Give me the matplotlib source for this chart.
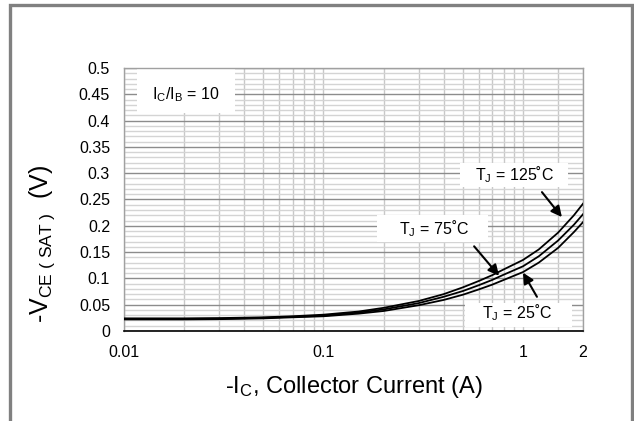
"""VCE(sat) versus collector current for three junction temperatures."""

import matplotlib.pyplot as plt
from matplotlib.patches import Rectangle
from matplotlib.ticker import FixedLocator, FixedFormatter, NullFormatter

plt.rcParams["font.family"] = ["Liberation Sans", "DejaVu Sans"]
plt.rcParams["mathtext.fontset"] = "custom"
plt.rcParams["mathtext.rm"] = "Liberation Sans"
plt.rcParams["mathtext.it"] = "Liberation Sans"

# Collector current (A)
current = [0.01, 0.02, 0.03, 0.05, 0.07, 0.1, 0.15, 0.2, 0.3, 0.4,
           0.5, 0.6, 0.7, 0.8, 1.0, 1.2, 1.5, 1.8, 2.0]

# -VCE(sat) (V) for each junction temperature
vce_125 = [0.024, 0.024, 0.0245, 0.026, 0.028, 0.031, 0.037, 0.044, 0.057, 0.070,
           0.083, 0.095, 0.106, 0.117, 0.135, 0.155, 0.187, 0.220, 0.242]
vce_75 = [0.023, 0.023, 0.0235, 0.025, 0.027, 0.029, 0.035, 0.041, 0.053, 0.065,
          0.076, 0.087, 0.097, 0.107, 0.123, 0.142, 0.172, 0.202, 0.222]
vce_25 = [0.022, 0.022, 0.0225, 0.024, 0.026, 0.028, 0.033, 0.038, 0.049, 0.059,
          0.069, 0.079, 0.088, 0.097, 0.112, 0.130, 0.158, 0.188, 0.207]

x_ticks = [0.01, 0.1, 1, 2]
x_tick_labels = ["0.01", "0.1", "1", "2"]
x_minor = [0.02, 0.03, 0.04, 0.05, 0.06, 0.07, 0.08, 0.09,
           0.2, 0.3, 0.4, 0.5, 0.6, 0.7, 0.8, 0.9, 1.5]
y_ticks = [0, 0.05, 0.1, 0.15, 0.2, 0.25, 0.3, 0.35, 0.4, 0.45, 0.5]
y_tick_labels = ["0", "0.05", "0.1", "0.15", "0.2", "0.25", "0.3",
                 "0.35", "0.4", "0.45", "0.5"]
y_minor = [i / 100 for i in range(51) if i % 5]

# (label, text position in axes fraction, arrow tail, arrow tip in data units)
annotations = [
    (r"T$_\mathregular{J}$ = 125˚C", (0.85, 0.593), (1.245, 0.264), (1.567, 0.2165)),
    (r"T$_\mathregular{J}$ = 75˚C", (0.675, 0.388), (0.569, 0.161), (0.759, 0.105)),
    (r"T$_\mathregular{J}$ = 25˚C", (0.856, 0.068), (1.175, 0.065), (1.0, 0.111)),
]
# white boxes behind labels (x, y, w, h in axes fraction)
label_boxes = [
    (0.028, 0.829, 0.214, 0.171),
    (0.732, 0.548, 0.235, 0.091),
    (0.551, 0.338, 0.242, 0.103),
    (0.743, 0.015, 0.233, 0.091),
]

fig = plt.figure(figsize=(6.34, 4.21), dpi=100)
ax = fig.add_axes([0.1956, 0.2138, 0.724, 0.6247])

# outer frame
fig.add_artist(Rectangle((10 / 634, -0.1), 622 / 634, 1.1 - 5 / 421,
                         transform=fig.transFigure, fill=False,
                         ec="#808080", lw=2.4, clip_on=False))

ax.set_xscale("log")
ax.set_xlim(0.01, 2)
ax.set_ylim(0, 0.5)

ax.xaxis.set_major_locator(FixedLocator(x_ticks))
ax.xaxis.set_major_formatter(FixedFormatter(x_tick_labels))
ax.xaxis.set_minor_locator(FixedLocator(x_minor))
ax.xaxis.set_minor_formatter(NullFormatter())
ax.yaxis.set_major_locator(FixedLocator(y_ticks))
ax.yaxis.set_major_formatter(FixedFormatter(y_tick_labels))
ax.yaxis.set_minor_locator(FixedLocator(y_minor))

ax.grid(axis="x", which="both", color="#c8c8c8", lw=1.0)
ax.grid(axis="y", which="major", color="#8c8c8c", lw=1.0)
ax.grid(axis="y", which="minor", color="#d4d4d4", lw=1.0)
ax.set_axisbelow(True)

ax.tick_params(which="both", length=0)
ax.tick_params(axis="x", labelsize=11.5, pad=10)
ax.tick_params(axis="y", labelsize=11.5, pad=10)

for side in ["left", "top", "right"]:
    ax.spines[side].set_color("#a0a0a0")
    ax.spines[side].set_linewidth(1.0)
ax.spines["bottom"].set_color("black")
ax.spines["bottom"].set_linewidth(1.2)

for x, y, w, h in label_boxes:
    ax.add_patch(Rectangle((x, y), w, h, transform=ax.transAxes,
                           fc="white", ec="none", zorder=1.5))

for vals in (vce_125, vce_75, vce_25):
    ax.plot(current, vals, color="black", lw=1.3, zorder=3)

ax.text(0.134, 0.897, r"I$_\mathregular{C}$/I$_\mathregular{B}$ = 10",
        transform=ax.transAxes, ha="center", va="center", fontsize=11.5,
        zorder=4)

for label, text_pos, tail, tip in annotations:
    ax.text(*text_pos, label, transform=ax.transAxes, ha="center",
            va="center", fontsize=11.5, zorder=4)
    ax.annotate("", xy=tip, xytext=tail,
                arrowprops=dict(arrowstyle="-|>", color="black", lw=1.5,
                                mutation_scale=16, shrinkA=0, shrinkB=0),
                zorder=4)

ax.set_xlabel(r"-I$_\mathregular{C}$, Collector Current (A)", fontsize=17,
              labelpad=10)
ax.set_ylabel(r"-V$_\mathregular{CE\ (\ SAT\ )}$  (V)", fontsize=18, va="center")
ax.yaxis.set_label_coords(-0.178, 0.33)

fig.savefig("out.png", dpi=100)
